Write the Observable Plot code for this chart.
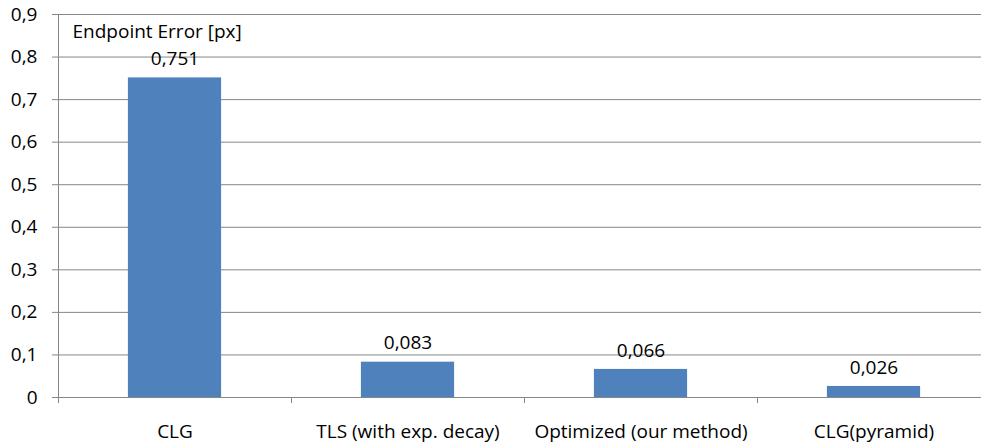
<!DOCTYPE html>
<html>
<head>
<meta charset="utf-8">
<script src="https://cdn.jsdelivr.net/npm/d3@7"></script>
<script src="https://cdn.jsdelivr.net/npm/@observablehq/plot@0.6"></script>
<style>
  html, body { margin: 0; padding: 0; background: #fff; overflow: hidden; }
  #chart { width: 981px; height: 446px; overflow: hidden; }
</style>
</head>
<body>
<div id="chart"></div>
<script>
const categories = ["CLG", "TLS (with exp. decay)", "Optimized (our method)", "CLG(pyramid)"];
const values = [0.751, 0.083, 0.066, 0.026];
const valueLabels = ["0,751", "0,083", "0,066", "0,026"];
const yTicks = [0, 0.1, 0.2, 0.3, 0.4, 0.5, 0.6, 0.7, 0.8, 0.9];
const yTickLabels = ["0", "0,1", "0,2", "0,3", "0,4", "0,5", "0,6", "0,7", "0,8", "0,9"];
const yTitle = "Endpoint Error [px]";

const data = categories.map((name, i) => ({i, name, value: values[i], label: valueLabels[i]}));
const boundaries = d3.range(categories.length + 1);
const centers = categories.map((_, i) => i + 0.5);
const gray = "#868686";

const chart = Plot.plot({
  width: 981,
  height: 446,
  marginLeft: 58,
  marginRight: 0,
  marginTop: 14,
  marginBottom: 49,
  style: {fontFamily: "'Open Sans', sans-serif", fontSize: "19px", color: "#000", background: "#fff", overflow: "visible"},
  x: {domain: [0, categories.length], range: [58, 990], axis: null},
  y: {domain: [0, 0.9], range: [397, 14], axis: null},
  marks: [
    Plot.gridY(yTicks, {stroke: gray, strokeOpacity: 1}),
    Plot.rectY(data, {x1: d => d.i + 0.3, x2: d => d.i + 0.7, y: "value", fill: "#4F81BD"}),
    Plot.ruleX([0], {y1: 0, y2: 0.9, stroke: gray}),
    Plot.axisY(yTicks, {tickSize: 6, tickPadding: 15, stroke: gray, fill: "#000", tickFormat: d => yTickLabels[yTicks.indexOf(d)], label: null}),
    Plot.axisX(boundaries, {tickSize: 6, stroke: gray, tickFormat: () => "", label: null}),
    Plot.axisX(centers, {tickSize: 0, tickPadding: 27, fill: "#000", tickFormat: d => categories[Math.floor(d)], label: null}),
    Plot.text(data, {x: d => d.i + 0.5, y: "value", text: "label", dy: -19, lineAnchor: "middle", fill: "#000"}),
    Plot.text([yTitle], {frameAnchor: "top-left", dx: 14, dy: 17, textAnchor: "start", lineAnchor: "middle", fill: "#000"})
  ]
});
document.getElementById("chart").appendChild(chart);
</script>
</body>
</html>
